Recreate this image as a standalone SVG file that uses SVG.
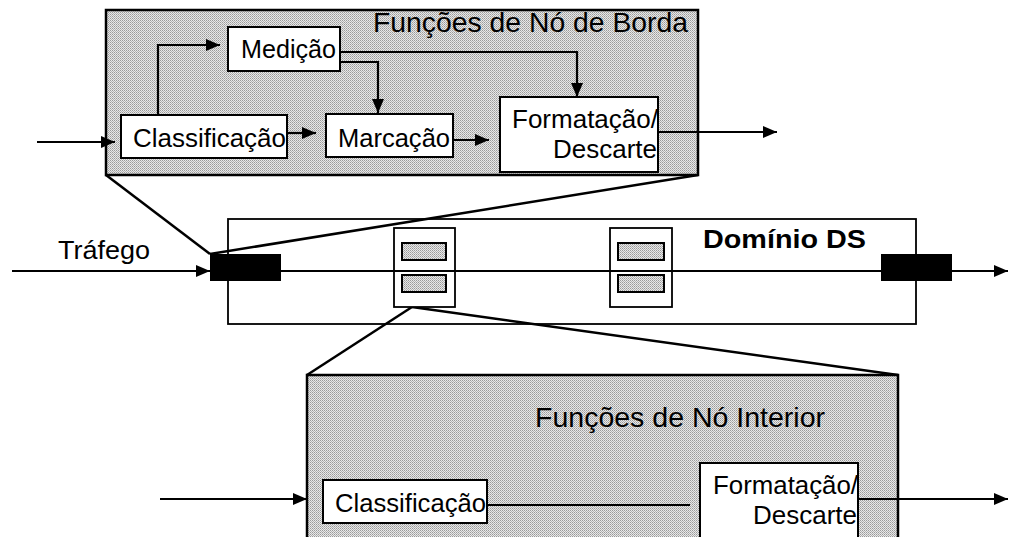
<svg xmlns="http://www.w3.org/2000/svg" width="1010" height="537" viewBox="0 0 1010 537">
<style>
  text { font-family: "Liberation Sans", Arial, sans-serif; fill: #000; }
  .lbl { font-size: 25px; }
  .ttl { font-size: 28px; }
  .panel { fill: url(#dots); stroke: #000; stroke-width: 2.5; }
  .box { fill: #fff; stroke: #000; stroke-width: 2; }
  .ln { fill: none; stroke: #000; stroke-width: 2; }
  .arr { fill: none; stroke: #000; stroke-width: 2.2; marker-end: url(#ah); }
  .zoom { fill: none; stroke: #000; stroke-width: 2.5; }
  .blk { fill: #000; }
  .sh { fill: url(#dots); stroke: #000; stroke-width: 2; }
</style>
<defs>
  <pattern id="dots" width="2" height="2" patternUnits="userSpaceOnUse">
    <rect width="2" height="2" fill="#e8e8e8"/>
    <rect width="1" height="1" fill="#9a9a9a"/>
    <rect x="1" y="1" width="1" height="1" fill="#b4b4b4"/>
  </pattern>
  <marker id="ah" viewBox="0 0 14 12" refX="14" refY="6" markerWidth="14" markerHeight="12" markerUnits="userSpaceOnUse" orient="auto">
    <path d="M0,0 L14,6 L0,12 Z" fill="#000"/>
  </marker>
</defs>
<rect width="1010" height="537" fill="#fff"/>

<g id="zoom-lines">
  <line class="zoom" x1="106" y1="175" x2="210" y2="254"/>
  <line class="zoom" x1="698" y1="175" x2="210" y2="254"/>
  <line class="zoom" x1="412" y1="307" x2="307" y2="375"/>
  <line class="zoom" x1="412" y1="307" x2="898" y2="375"/>
</g>

<g id="edge-panel">
  <rect class="panel" x="106" y="10" width="592" height="165"/>
  <text class="ttl" x="373" y="32" textLength="315" lengthAdjust="spacingAndGlyphs">Funções de Nó de Borda</text>
</g>
<g id="medicao">
  <rect class="box" x="228" y="27" width="112" height="44"/>
  <text class="lbl" x="241" y="58" textLength="95" lengthAdjust="spacingAndGlyphs">Medição</text>
</g>
<g id="classificacao-top">
  <rect class="box" x="121" y="115" width="166" height="43"/>
  <text class="lbl" x="133" y="147" textLength="153" lengthAdjust="spacingAndGlyphs">Classificação</text>
</g>
<g id="marcacao">
  <rect class="box" x="326" y="114" width="127" height="43"/>
  <text class="lbl" x="338" y="147" textLength="112" lengthAdjust="spacingAndGlyphs">Marcação</text>
</g>
<g id="formatacao-top">
  <rect class="box" x="500" y="97" width="158" height="75"/>
  <text class="lbl" x="512" y="128" textLength="146" lengthAdjust="spacingAndGlyphs">Formatação/</text>
  <text class="lbl" x="553" y="158" textLength="104" lengthAdjust="spacingAndGlyphs">Descarte</text>
</g>

<g id="ds-domain">
  <rect x="228" y="219" width="688" height="105" fill="none" stroke="#000" stroke-width="1.8"/>
  <text x="703" y="248" font-size="26" font-weight="bold" textLength="163" lengthAdjust="spacingAndGlyphs">Domínio DS</text>
</g>
<g id="traffic-label">
  <text x="58" y="259" font-size="26" textLength="92" lengthAdjust="spacingAndGlyphs">Tráfego</text>
</g>
<g id="interior-node-1">
  <rect x="394" y="228" width="61" height="79" fill="#fff" stroke="#000" stroke-width="1.8"/>
  <rect class="sh" x="402" y="243" width="44" height="17"/>
  <rect class="sh" x="402" y="275" width="44" height="17"/>
</g>
<g id="interior-node-2">
  <rect x="610" y="228" width="62" height="79" fill="#fff" stroke="#000" stroke-width="1.8"/>
  <rect class="sh" x="618" y="243" width="46" height="17"/>
  <rect class="sh" x="618" y="275" width="46" height="17"/>
</g>

<g id="interior-panel">
  <rect class="panel" x="307" y="375" width="591" height="175"/>
  <text class="ttl" x="535" y="427" textLength="290" lengthAdjust="spacingAndGlyphs">Funções de Nó Interior</text>
</g>
<g id="classificacao-bottom">
  <rect class="box" x="323" y="480" width="164" height="43"/>
  <text class="lbl" x="335" y="512" textLength="151" lengthAdjust="spacingAndGlyphs">Classificação</text>
</g>
<g id="formatacao-bottom">
  <rect class="box" x="700" y="463" width="158" height="90"/>
  <text class="lbl" x="713" y="494" textLength="145" lengthAdjust="spacingAndGlyphs">Formatação/</text>
  <text class="lbl" x="753" y="524" textLength="104" lengthAdjust="spacingAndGlyphs">Descarte</text>
</g>

<g id="connectors">
  <path class="arr" d="M37,142 H115"/>
  <path class="arr" d="M158,115 V45 H220"/>
  <path class="arr" d="M287,133 H316"/>
  <path class="arr" d="M340,62 H378 V113"/>
  <path class="arr" d="M340,52 H577 V97"/>
  <path class="arr" d="M453,140 H489"/>
  <path class="arr" d="M658,132 H777"/>
  <path class="arr" d="M12,271 H210"/>
  <path class="ln" d="M281,271 H881"/>
  <path class="arr" d="M952,271 H1008"/>
  <path class="arr" d="M160,499 H307"/>
  <path class="ln" d="M487,505 H690"/>
  <path class="arr" d="M858,499 H1008"/>
</g>

<g id="edge-node-in">
  <rect class="blk" x="210" y="254" width="71" height="27"/>
</g>
<g id="edge-node-out">
  <rect class="blk" x="881" y="254" width="71" height="27"/>
</g>
</svg>
